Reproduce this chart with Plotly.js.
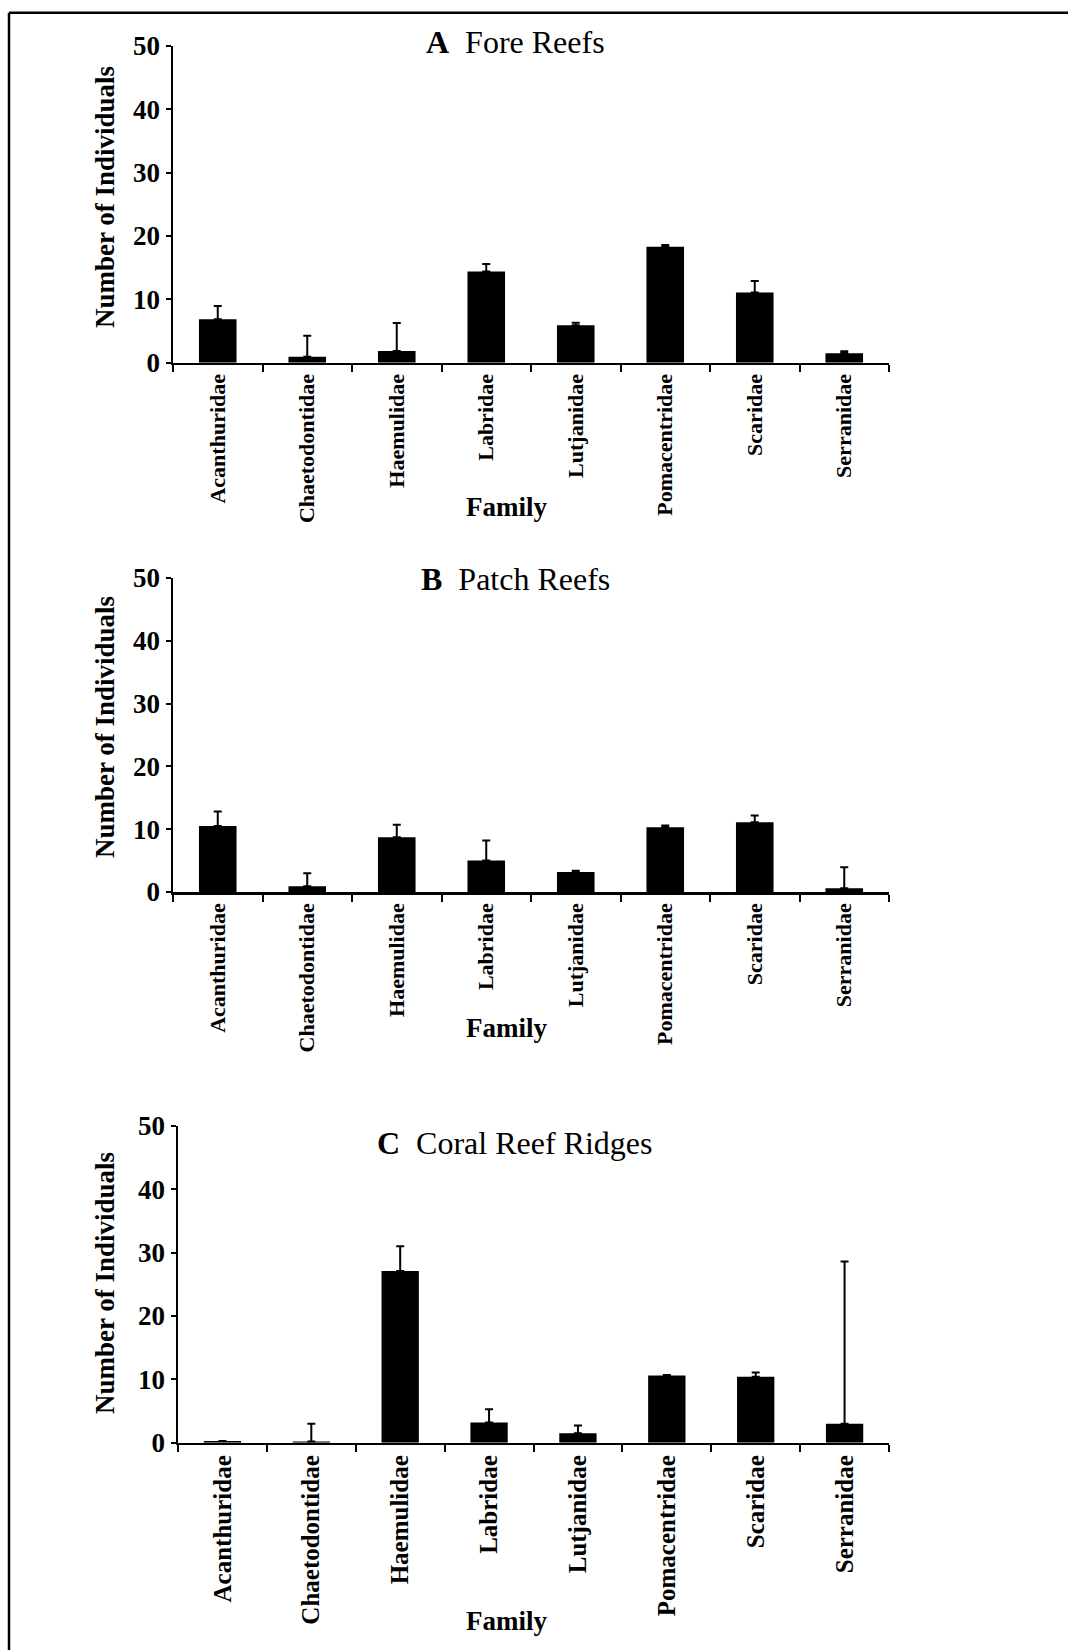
<!DOCTYPE html>
<html>
<head>
<meta charset="utf-8">
<script src="https://cdn.plot.ly/plotly-3.0.1.min.js"></script>
<style>html,body{margin:0;padding:0;background:#fff;}#chart{width:1068px;height:1650px;}</style>
</head>
<body>
<div id="chart"></div>
<script>
const categories = ["Acanthuridae","Chaetodontidae","Haemulidae","Labridae","Lutjanidae","Pomacentridae","Scaridae","Serranidae"];
const foreMeans  = [6.85, 0.95, 1.85, 14.4, 5.9, 18.3, 11.1, 1.5];
const foreErr    = [2.1, 3.3, 4.4, 1.2, 0.4, 0.3, 1.8, 0.3];
const patchMeans = [10.5, 0.9, 8.7, 5.0, 3.2, 10.3, 11.1, 0.6];
const patchErr   = [2.3, 2.1, 2.0, 3.2, 0.2, 0.3, 1.1, 3.35];
const ridgeMeans = [0.25, 0.2, 27.1, 3.2, 1.5, 10.6, 10.4, 3.0];
const ridgeErr   = [0, 2.8, 3.9, 2.1, 1.2, 0.1, 0.7, 25.6];
const yTickVals  = [0, 10, 20, 30, 40, 50];
const panelTitles = ["<b>A</b>\u00a0\u00a0Fore Reefs", "<b>B</b>\u00a0\u00a0Patch Reefs", "<b>C</b>\u00a0\u00a0Coral Reef Ridges"];
const yTitle = "Number of Individuals";
const xTitle = "Family";

const W = 1068, H = 1650;
const px = x => x / W;
const py = y => 1 - y / H;
const FONT = "Liberation Serif";

const panels = [
  {means: foreMeans,  err: foreErr,  top: 46,   bottom: 362.7, left: 173, lab: 22, titleY: 42,   yTitleY: 197,  famY: 507},
  {means: patchMeans, err: patchErr, top: 578,  bottom: 892,   left: 173, lab: 22, titleY: 579,  yTitleY: 727,  famY: 1028},
  {means: ridgeMeans, err: ridgeErr, top: 1126, bottom: 1442.7,left: 178, lab: 25, titleY: 1143, yTitleY: 1283, famY: 1621}
];

const data = [];
const layout = {
  width: W, height: H,
  margin: {l: 0, r: 0, t: 0, b: 0},
  paper_bgcolor: "#fff", plot_bgcolor: "#fff",
  showlegend: false,
  bargap: 0.58,
  font: {family: FONT, color: "#000"},
  annotations: [],
  shapes: [
    {type: "line", xref: "paper", yref: "paper", x0: px(9), x1: 1, y0: py(12.7), y1: py(12.7), line: {color: "#000", width: 2.5}},
    {type: "line", xref: "paper", yref: "paper", x0: px(9), x1: px(9), y0: py(12.7), y1: 0, line: {color: "#000", width: 2.5}}
  ]
};

panels.forEach((p, i) => {
  const n = i === 0 ? "" : String(i + 1);
  data.push({
    type: "bar",
    x: categories,
    y: p.means,
    xaxis: "x" + n, yaxis: "y" + n,
    marker: {color: "#000", line: {width: 0}},
    error_y: {type: "data", symmetric: false, array: p.err, arrayminus: p.err.map(() => 0), color: "#000", thickness: 2, width: 4},
    hoverinfo: "x+y"
  });
  layout["xaxis" + n] = {
    domain: [px(p.left), px(889)], anchor: "y" + n,
    type: "category", showline: true, linecolor: "#000", linewidth: 2.5,
    ticks: "outside", tickson: "boundaries", ticklen: 7, tickwidth: 2, tickcolor: "#000",
    tickangle: -90, tickfont: {family: FONT, size: p.lab, color: "#000", weight: "bold"},
    showgrid: false, zeroline: false, fixedrange: true
  };
  layout["yaxis" + n] = {
    domain: [py(p.bottom), py(p.top)], anchor: "x" + n,
    range: [0, 50], tickvals: yTickVals, ticktext: yTickVals.map(String),
    showline: true, linecolor: "#000", linewidth: 2.5,
    ticks: "outside", ticklen: 5, tickwidth: 2, tickcolor: "#000",
    tickfont: {family: FONT, size: 27, color: "#000", weight: "bold"},
    showgrid: false, zeroline: false, fixedrange: true
  };
  layout.annotations.push(
    {text: panelTitles[i], xref: "paper", yref: "paper", x: px(515), y: py(p.titleY), xanchor: "center", yanchor: "middle", showarrow: false, font: {family: FONT, size: 32, color: "#000"}},
    {text: "<b>" + yTitle + "</b>", xref: "paper", yref: "paper", x: px(105), y: py(p.yTitleY), xanchor: "center", yanchor: "middle", textangle: -90, showarrow: false, font: {family: FONT, size: 27, color: "#000"}},
    {text: "<b>" + xTitle + "</b>", xref: "paper", yref: "paper", x: px(506), y: py(p.famY), xanchor: "center", yanchor: "middle", showarrow: false, font: {family: FONT, size: 27, color: "#000"}}
  );
});

Plotly.newPlot("chart", data, layout, {displayModeBar: false, staticPlot: true});
</script>
</body>
</html>
